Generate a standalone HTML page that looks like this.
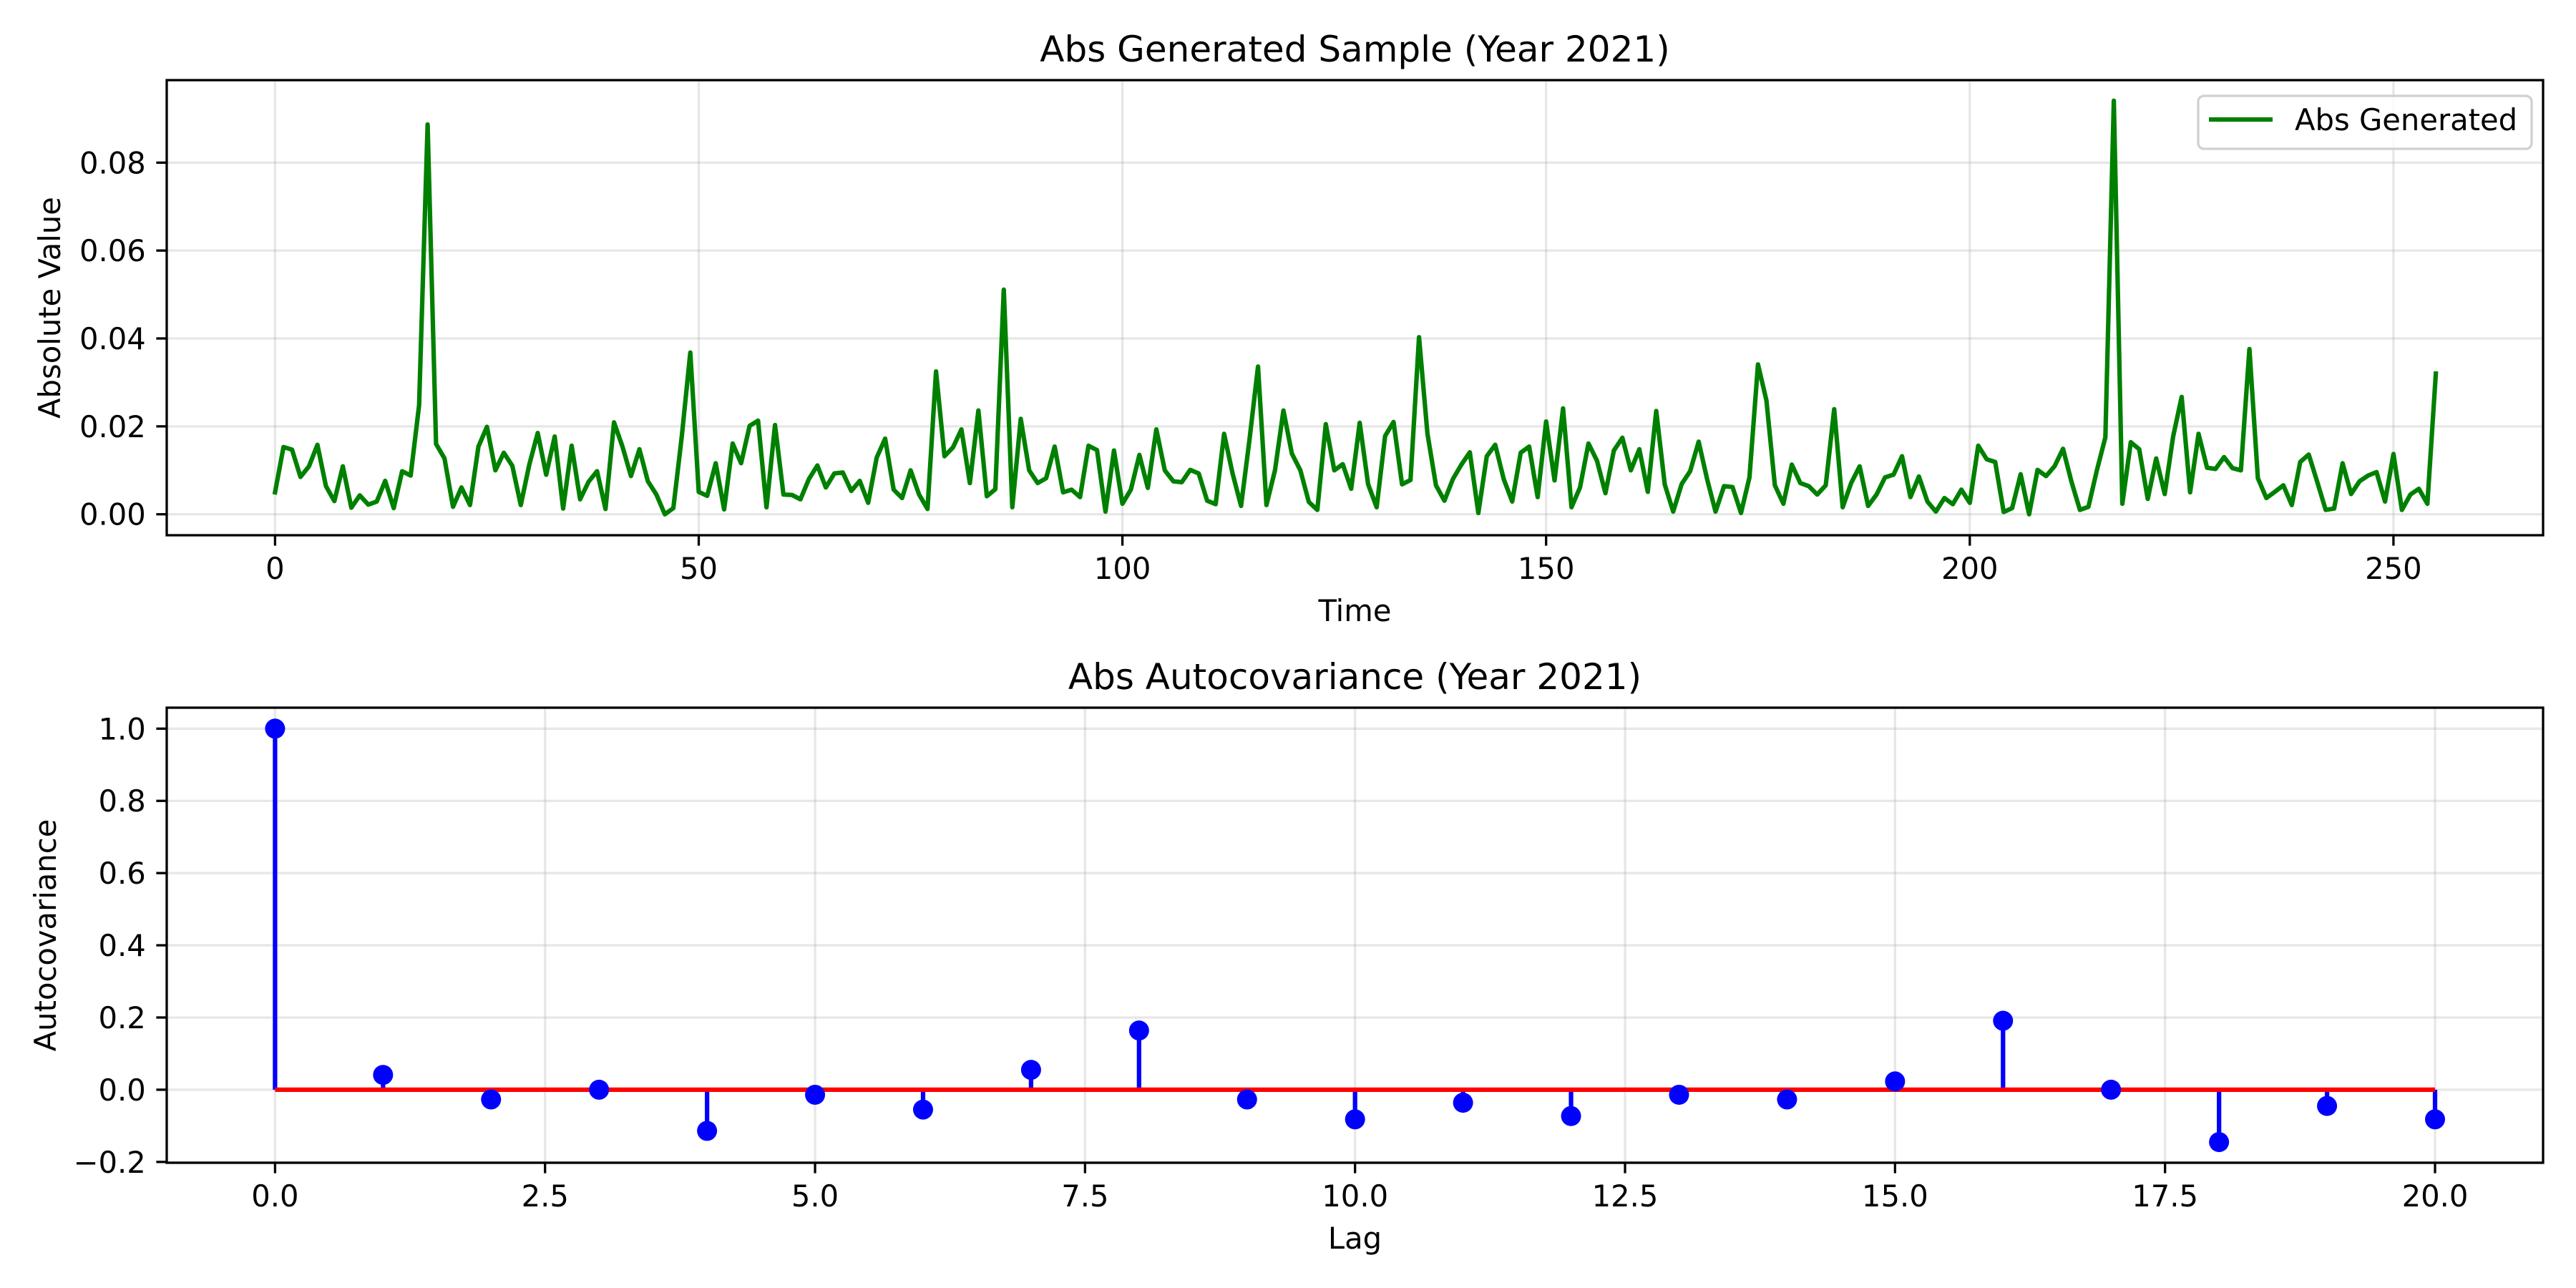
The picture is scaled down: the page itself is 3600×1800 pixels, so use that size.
<!DOCTYPE html>
<html><head><meta charset="utf-8">
<style>
html,body{margin:0;padding:0;background:#fff;}
svg{display:block;font-family:"DejaVu Sans","Liberation Sans",sans-serif;}
</style></head>
<body>
<svg id="fig" width="3600" height="1800" viewBox="0 0 3600 1800" xmlns="http://www.w3.org/2000/svg"></svg>
<script>
// ---- Top chart data ----
const absValues = [
0.0050,0.0153,0.0147,0.0085,0.0109,0.0158,0.0064,0.0030,0.0109,0.0015,
0.0043,0.0022,0.0029,0.0076,0.0014,0.0098,0.0088,0.0248,0.0887,0.0160,
0.0127,0.0017,0.0061,0.0021,0.0154,0.0199,0.0100,0.0140,0.0110,0.0021,
0.0113,0.0185,0.0090,0.0177,0.0013,0.0156,0.0034,0.0074,0.0098,0.0012,
0.0209,0.0154,0.0087,0.0148,0.0075,0.0045,0.0000,0.0014,0.0177,0.0368,
0.0051,0.0042,0.0116,0.0011,0.0161,0.0116,0.0201,0.0213,0.0016,0.0203,
0.0045,0.0044,0.0034,0.0080,0.0111,0.0061,0.0093,0.0095,0.0053,0.0076,
0.0026,0.0129,0.0172,0.0056,0.0037,0.0100,0.0045,0.0012,0.0325,0.0132,
0.0152,0.0193,0.0071,0.0236,0.0041,0.0057,0.0511,0.0016,0.0217,0.0100,
0.0071,0.0082,0.0154,0.0050,0.0056,0.0039,0.0156,0.0146,0.0006,0.0145,
0.0024,0.0056,0.0135,0.0060,0.0193,0.0100,0.0075,0.0073,0.0101,0.0093,
0.0031,0.0023,0.0183,0.0093,0.0019,0.0170,0.0336,0.0021,0.0100,0.0236,
0.0138,0.0100,0.0028,0.0010,0.0205,0.0100,0.0114,0.0058,0.0208,0.0068,
0.0016,0.0178,0.0210,0.0068,0.0078,0.0403,0.0183,0.0066,0.0031,0.0080,
0.0113,0.0141,0.0003,0.0132,0.0158,0.0080,0.0029,0.0140,0.0154,0.0039,
0.0211,0.0077,0.0241,0.0016,0.0061,0.0161,0.0122,0.0048,0.0145,0.0174,
0.0100,0.0148,0.0051,0.0235,0.0068,0.0006,0.0069,0.0098,0.0165,0.0080,
0.0006,0.0064,0.0062,0.0003,0.0084,0.0341,0.0259,0.0066,0.0024,0.0113,
0.0071,0.0064,0.0045,0.0066,0.0239,0.0016,0.0071,0.0109,0.0019,0.0045,
0.0084,0.0090,0.0132,0.0039,0.0086,0.0029,0.0006,0.0037,0.0023,0.0056,
0.0026,0.0156,0.0125,0.0119,0.0005,0.0014,0.0091,0.0000,0.0101,0.0087,
0.0109,0.0149,0.0074,0.0010,0.0017,0.0100,0.0175,0.0941,0.0024,0.0164,
0.0148,0.0035,0.0127,0.0046,0.0177,0.0267,0.0050,0.0183,0.0106,0.0103,
0.0130,0.0105,0.0100,0.0376,0.0082,0.0037,0.0051,0.0066,0.0021,0.0119,
0.0136,0.0074,0.0010,0.0013,0.0116,0.0046,0.0075,0.0088,0.0096,0.0029,
0.0137,0.0010,0.0045,0.0058,0.0024,0.0320];
const topXTicks = [0,50,100,150,200,250];
const topYTicks = [0.00,0.02,0.04,0.06,0.08];
const topYTickLabels = ["0.00","0.02","0.04","0.06","0.08"];

// ---- Bottom chart data ----
const lags = [0,1,2,3,4,5,6,7,8,9,10,11,12,13,14,15,16,17,18,19,20];
const acovValues = [1.0,0.041,-0.027,0.0,-0.114,-0.014,-0.055,0.055,0.164,-0.027,-0.082,-0.036,-0.073,-0.014,-0.027,0.023,0.191,0.0,-0.145,-0.045,-0.082];
const botXTicks = [0,2.5,5,7.5,10,12.5,15,17.5,20];
const botXTickLabels = ["0.0","2.5","5.0","7.5","10.0","12.5","15.0","17.5","20.0"];
const botYTicks = [-0.2,0,0.2,0.4,0.6,0.8,1.0];
const botYTickLabels = ["\u22120.2","0.0","0.2","0.4","0.6","0.8","1.0"];

const NS="http://www.w3.org/2000/svg";
const svg=document.getElementById('fig');
function mk(tag,attrs,parent){const e=document.createElementNS(NS,tag);for(const k in attrs)e.setAttribute(k,attrs[k]);(parent||svg).appendChild(e);return e;}

// axes geometry
const L=233, R=3554;
const T1=112, B1=748;
const T2=989, B2=1625;
const xTop=t=>384.4+t*11.842;
const yTop=v=>718.7-v*(122.85/0.02);
const xBot=l=>384.4+l*150.93;
const yBot=v=>1522.9-v*504.6;
const FS=41.7;

function axesFrame(T,B,name){
  const r=mk('rect',{x:L,y:T,width:R-L,height:B-T,fill:'none',stroke:'#000','stroke-width':3.3});
  
  
}

// ===== TOP =====
const gTop=mk('g',{});


topXTicks.forEach(t=>{
  const x=xTop(t);
  const g=mk('line',{x1:x,x2:x,y1:T1,y2:B1,stroke:'#b0b0b0','stroke-opacity':0.3,'stroke-width':3.3},gTop);
  
  
  const tk=mk('line',{x1:x,x2:x,y1:B1,y2:B1+14.6,stroke:'#000','stroke-width':3.3},gTop);
  
  
  const tx=mk('text',{x:x,y:B1+14.6+14.6+FS*0.76,'font-size':FS,'text-anchor':'middle'},gTop);
  tx.textContent=String(t);
  
  
});
topYTicks.forEach((v,i)=>{
  const y=yTop(v);
  const g=mk('line',{x1:L,x2:R,y1:y,y2:y,stroke:'#b0b0b0','stroke-opacity':0.3,'stroke-width':3.3},gTop);
  
  
  const tk=mk('line',{x1:L-14.6,x2:L,y1:y,y2:y,stroke:'#000','stroke-width':3.3},gTop);
  
  
  const tx=mk('text',{x:L-14.6-14.6,y:y+FS*0.36,'font-size':FS,'text-anchor':'end'},gTop);
  tx.textContent=topYTickLabels[i];
  
  
});
const pts=absValues.map((v,i)=>xTop(i).toFixed(1)+','+yTop(v).toFixed(1)).join(' ');
const line=mk('polyline',{points:pts,fill:'none',stroke:'#008000','stroke-width':6.25,'stroke-linejoin':'round','stroke-linecap':'square'},gTop);


axesFrame(T1,B1,'top-axes-frame');
// legend
const lg=mk('g',{});


mk('rect',{x:3072,y:134,width:466,height:74,rx:8,fill:'#fff','fill-opacity':0.8,stroke:'#d0d0d0','stroke-width':3.3},lg);
const ll=mk('line',{x1:3087,x2:3176,y1:167,y2:167,stroke:'#008000','stroke-width':6.25},lg);


const lt=mk('text',{x:3207,y:182,'font-size':FS},lg);
lt.textContent='Abs Generated';



let t1=mk('text',{x:(L+R)/2,y:86,'font-size':50,'text-anchor':'middle'});
t1.textContent='Abs Generated Sample (Year 2021)';


let xl1=mk('text',{x:(L+R)/2,y:868,'font-size':FS,'text-anchor':'middle'});
xl1.textContent='Time';


let yl1=mk('text',{x:0,y:0,'font-size':FS,'text-anchor':'middle',transform:'translate(84,'+((T1+B1)/2)+') rotate(-90)'});
yl1.textContent='Absolute Value';



// ===== BOTTOM =====
const gBot=mk('g',{});


botXTicks.forEach((l,i)=>{
  const x=xBot(l);
  const g=mk('line',{x1:x,x2:x,y1:T2,y2:B2,stroke:'#b0b0b0','stroke-opacity':0.3,'stroke-width':3.3},gBot);
  
  
  const tk=mk('line',{x1:x,x2:x,y1:B2,y2:B2+14.6,stroke:'#000','stroke-width':3.3},gBot);
  
  
  const tx=mk('text',{x:x,y:B2+14.6+14.6+FS*0.76,'font-size':FS,'text-anchor':'middle'},gBot);
  tx.textContent=botXTickLabels[i];
  
  
});
botYTicks.forEach((v,i)=>{
  const y=yBot(v);
  const g=mk('line',{x1:L,x2:R,y1:y,y2:y,stroke:'#b0b0b0','stroke-opacity':0.3,'stroke-width':3.3},gBot);
  
  
  const tk=mk('line',{x1:L-14.6,x2:L,y1:y,y2:y,stroke:'#000','stroke-width':3.3},gBot);
  
  
  const tx=mk('text',{x:L-14.6-14.6,y:y+FS*0.36,'font-size':FS,'text-anchor':'end'},gBot);
  tx.textContent=botYTickLabels[i];
  
  
});
lags.forEach((l,i)=>{
  const x=xBot(l);
  const s=mk('line',{x1:x,x2:x,y1:yBot(0),y2:yBot(acovValues[i]),stroke:'#0000ff','stroke-width':6.25},gBot);
  
  
});
const base=mk('line',{x1:xBot(lags[0]),x2:xBot(lags[lags.length-1]),y1:yBot(0),y2:yBot(0),stroke:'#ff0000','stroke-width':6.25},gBot);


lags.forEach((l,i)=>{
  const c=mk('circle',{cx:xBot(l),cy:yBot(acovValues[i]),r:14,fill:'#0000ff'},gBot);
  
  
});
axesFrame(T2,B2,'bottom-axes-frame');
let t2=mk('text',{x:(L+R)/2,y:963,'font-size':50,'text-anchor':'middle'});
t2.textContent='Abs Autocovariance (Year 2021)';


let xl2=mk('text',{x:(L+R)/2,y:1745,'font-size':FS,'text-anchor':'middle'});
xl2.textContent='Lag';


let yl2=mk('text',{x:0,y:0,'font-size':FS,'text-anchor':'middle',transform:'translate(78,'+((T2+B2)/2)+') rotate(-90)'});
yl2.textContent='Autocovariance';


</script>
</body></html>
